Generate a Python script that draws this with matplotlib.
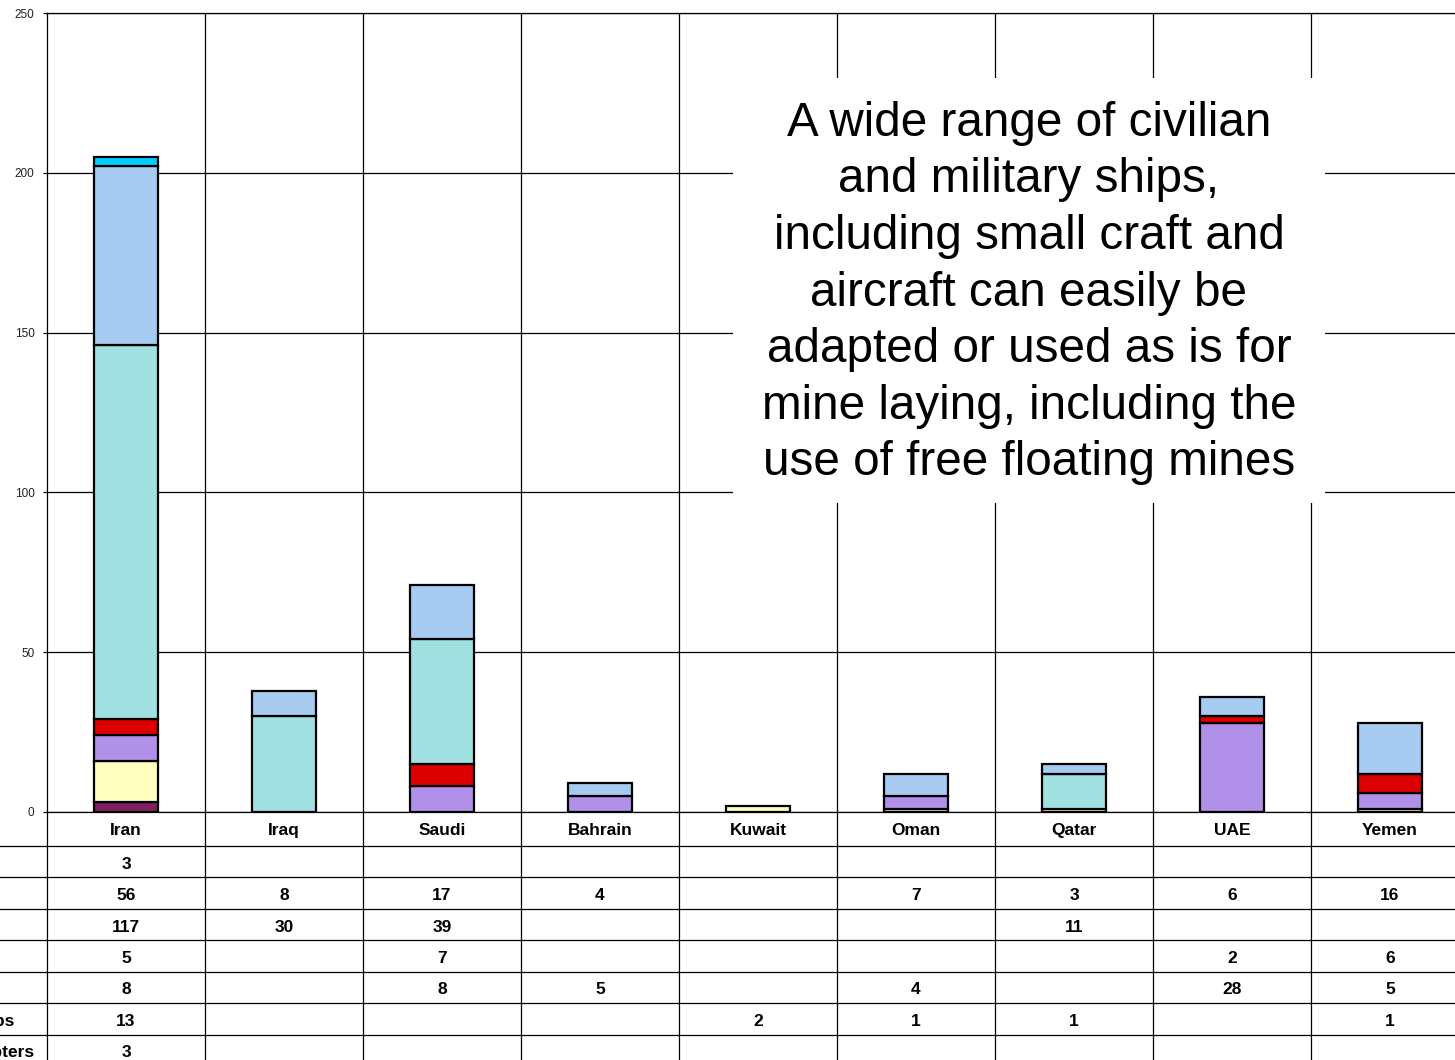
import matplotlib
matplotlib.use("Agg")
import matplotlib.pyplot as plt
from matplotlib.patches import Rectangle

plt.rcParams['font.family'] = ['Liberation Sans', 'DejaVu Sans']

# ---- data -------------------------------------------------------------
categories = ['Iran', 'Iraq', 'Saudi', 'Bahrain', 'Kuwait', 'Oman', 'Qatar', 'UAE', 'Yemen']

# table rows, top to bottom
row_names = ['Submarines', 'Patrol Craft', 'Small Craft', 'MCM Ships',
             'Amphibious', 'Logistic Ships', 'Mine Helicopters']
submarines       = [3, 0, 0, 0, 0, 0, 0, 0, 0]
patrol_craft     = [56, 8, 17, 4, 0, 7, 3, 6, 16]
small_craft      = [117, 30, 39, 0, 0, 0, 11, 0, 0]
mcm_ships        = [5, 0, 7, 0, 0, 0, 0, 2, 6]
amphibious       = [8, 0, 8, 5, 0, 4, 0, 28, 5]
logistic_ships   = [13, 0, 0, 0, 2, 1, 1, 0, 1]
mine_helicopters = [3, 0, 0, 0, 0, 0, 0, 0, 0]

rows = [submarines, patrol_craft, small_craft, mcm_ships,
        amphibious, logistic_ships, mine_helicopters]
row_colors = ['#00CCFF', '#A6CAF0', '#A0E0E0', '#DD0000',
              '#B090E8', '#FFFFC0', '#802060']

y_ticks = [0, 50, 100, 150, 200, 250]

note = ("A wide range of civilian\nand military ships,\nincluding small craft and\n"
        "aircraft can easily be\nadapted or used as is for\nmine laying, including the\n"
        "use of free floating mines")

# ---- layout helpers (pixels) -----------------------------------------
W, H = 1455, 1060
fig = plt.figure(figsize=(W / 100, H / 100), dpi=100)
fig.patch.set_facecolor('white')

col_px = 158
left_px, top_px, base_px = 47, 13, 812
n = len(categories)

ax = fig.add_axes([left_px / W, 1 - base_px / H, n * col_px / W, (base_px - top_px) / H])
ax.set_xlim(0, n)
ax.set_ylim(0, 250)
ax.set_xticks([])
ax.set_yticks(y_ticks)
ax.set_yticklabels([str(t) for t in y_ticks], fontsize=8.5, color='#222222')
ax.tick_params(axis='y', length=3, width=0.9, pad=6.0, color='black')
for s in ax.spines.values():
    s.set_color('black')
    s.set_linewidth(0.9)
ax.yaxis.grid(True, color='black', linewidth=0.9, zorder=0)
ax.set_axisbelow(True)
for i in range(1, n + 1):
    ax.axvline(i, color='black', linewidth=0.9, zorder=0)

# stacked bars, bottom series first
bar_w = 64 / col_px
for ci in range(n):
    bottom = 0
    for ri in range(len(rows) - 1, -1, -1):
        v = rows[ri][ci]
        if v == 0:
            continue
        ax.bar(ci + 0.5, v, bottom=bottom, width=bar_w, color=row_colors[ri],
               edgecolor='black', linewidth=1.6, zorder=3)
        bottom += v

# annotation box over the grid
box = Rectangle((733 / W, 1 - 503 / H), (1325 - 733) / W, (503 - 78) / H,
                transform=fig.transFigure, facecolor='white', edgecolor='none',
                zorder=5)
fig.patches.append(box)
fig.text(1029 / W, 1 - 293 / H, note, ha='center', va='center', fontsize=34.3,
         linespacing=1.33, zorder=6)

# ---- data table -------------------------------------------------------
row_px = 31.43
header = 34 / row_px
total = header + len(rows)
tax = fig.add_axes([0, 1 - (base_px + total * row_px) / H, (left_px + n * col_px) / W,
                    total * row_px / H])
tax.set_xlim(-left_px / col_px, n)
tax.set_ylim(total, 0)
tax.axis('off')

for k in range(len(rows)):
    tax.plot([-left_px / col_px, n], [header + k, header + k], color='black',
             linewidth=0.9, clip_on=False)
for i in range(n + 1):
    tax.plot([i, i], [0, total], color='black', linewidth=0.9, clip_on=False)

for ci, name in enumerate(categories):
    tax.text(ci + 0.5, header / 2 + 0.04, name, ha='center', va='center',
             fontsize=12.5, fontweight='bold')
label_x = -(left_px + 105) / col_px
for ri, vals in enumerate(rows):
    yc = header + ri + 0.58
    tax.text(label_x, yc, row_names[ri], ha='left', va='center',
             fontsize=12.5, fontweight='bold', clip_on=False)
    for ci, v in enumerate(vals):
        if v:
            tax.text(ci + 0.5, yc, str(v), ha='center', va='center',
                     fontsize=12.5, fontweight='bold')

fig.savefig('out.png', dpi=100)
